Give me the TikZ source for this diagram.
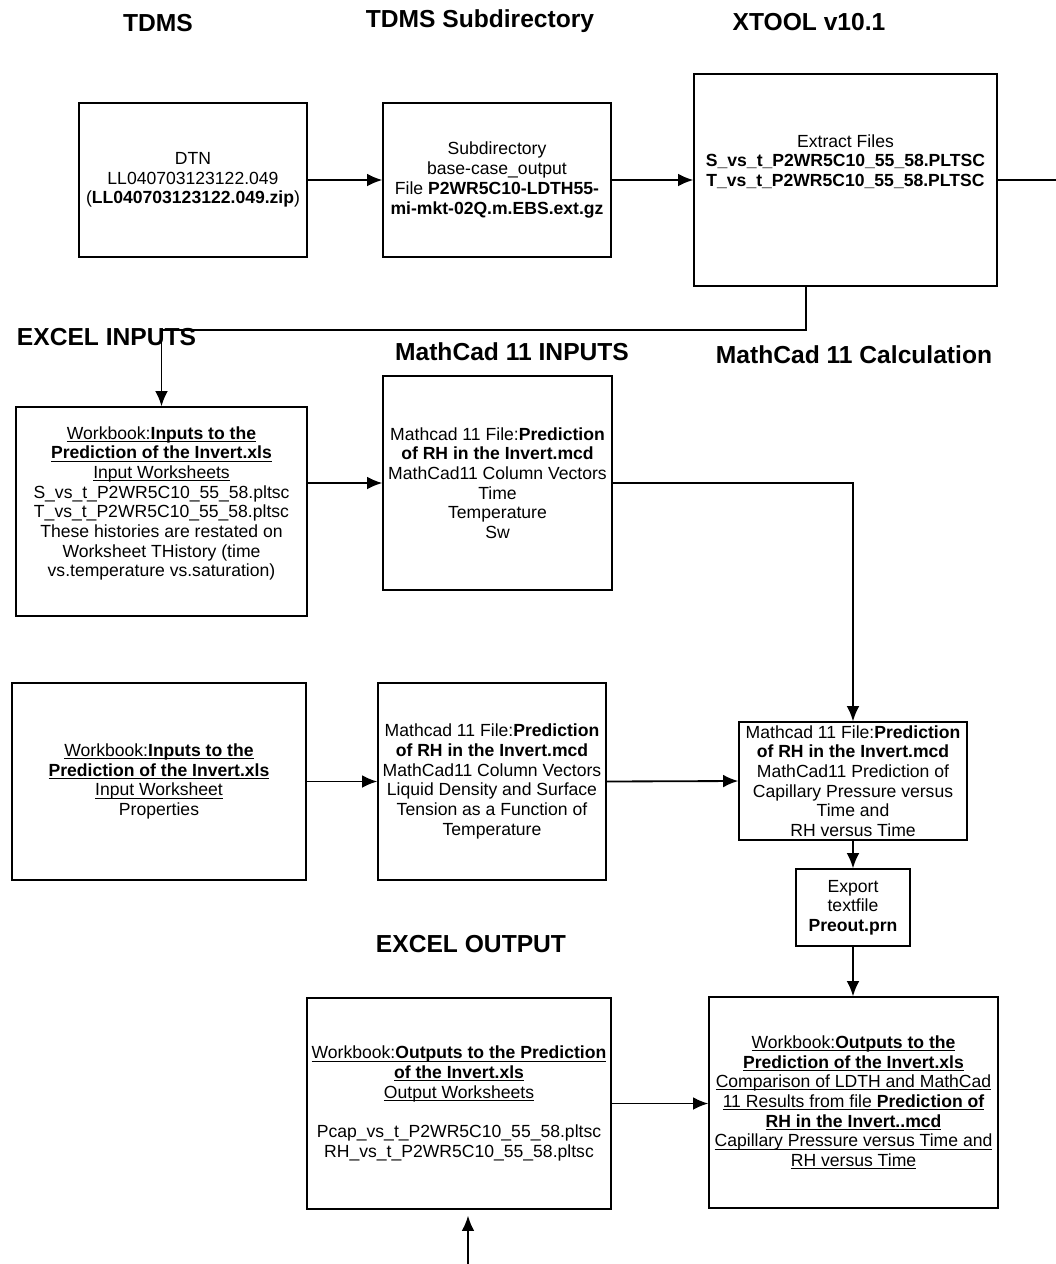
\documentclass[tikz,border=0pt]{standalone}
\usepackage{fontspec}
\setmainfont{Liberation Sans}
\usetikzlibrary{arrows.meta}
\newcommand{\undl}[1]{\underline{\raisebox{0pt}[\height][0pt]{#1}}}
\begin{document}
\begin{tikzpicture}[x=0.025cm,y=-0.025cm,
  box/.style={draw,line width=1pt,align=center,inner sep=1pt,font=\fontsize{12.5}{14}\selectfont},
  head/.style={anchor=base,font=\fontsize{17.5}{20}\selectfont\bfseries},
  >={Latex[length=3.8mm,width=3.2mm]}]
\path[fill=white,use as bounding box] (0,0) rectangle (1056,1264);

\node[head] (h1) at (158,31) {TDMS};
\node[head] (h2) at (480,27) {TDMS Subdirectory};
\node[head] (h3) at (809,30) {XTOOL v10.1};
\node[head,anchor=base west] (h4) at (12,345) {EXCEL INPUTS};
\node[head] (h5) at (512,360) {MathCad 11 INPUTS};
\node[head] (h6) at (854,363) {MathCad 11 Calculation};
\node[head] (h7) at (471,952) {EXCEL OUTPUT};

\node[box,minimum width=5.7cm,minimum height=3.85cm] (A) at (193,180) {DTN\\LL040703123122.049\\(\textbf{LL040703123122.049.zip})};
\node[box,minimum width=5.7cm,minimum height=3.85cm] (B) at (497,180) {Subdirectory\\base-case\_output\\File \textbf{P2WR5C10-LDTH55-}\\\textbf{mi-mkt-02Q.m.EBS.ext.gz}};
\node[box,minimum width=7.575cm,minimum height=5.3cm] (C) at (845.5,180) {Extract Files\\\textbf{S\_vs\_t\_P2WR5C10\_55\_58.PLTSC}\\\textbf{T\_vs\_t\_P2WR5C10\_55\_58.PLTSC}\\~\\~};

\node[box,minimum width=7.275cm,minimum height=5.225cm] (D) at (161.5,511.5) {\undl{Workbook:\textbf{Inputs to the}}\\\undl{\textbf{Prediction of the Invert.xls}}\\\undl{Input Worksheets}\\S\_vs\_t\_P2WR5C10\_55\_58.pltsc\\T\_vs\_t\_P2WR5C10\_55\_58.pltsc\\These histories are restated on\\Worksheet THistory (time\\vs.temperature vs.saturation)\\~};
\node[box,minimum width=5.725cm,minimum height=5.35cm] (E) at (497.5,483) {Mathcad 11 File:\textbf{Prediction}\\\textbf{of RH in the Invert.mcd}\\MathCad11 Column Vectors\\Time\\Temperature\\Sw};

\node[box,minimum width=7.35cm,minimum height=4.925cm] (F) at (159,781.5) {\undl{Workbook:\textbf{Inputs to the}}\\\undl{\textbf{Prediction of the Invert.xls}}\\\undl{Input Worksheet}\\Properties};
\node[box,minimum width=5.7cm,minimum height=4.925cm] (G) at (492,781.5) {Mathcad 11 File:\textbf{Prediction}\\\textbf{of RH in the Invert.mcd}\\MathCad11 Column Vectors\\Liquid Density and Surface\\Tension as a Function of\\Temperature};
\node[box,minimum width=5.7cm,minimum height=2.95cm] (H) at (853,781) {Mathcad 11 File:\textbf{Prediction}\\\textbf{of RH in the Invert.mcd}\\MathCad11 Prediction of\\Capillary Pressure versus\\Time and\\RH versus Time};
\node[box,minimum width=2.85cm,minimum height=1.925cm] (I) at (853,907.5) {Export\\textfile\\\textbf{Preout.prn}};

\node[box,minimum width=7.6cm,minimum height=5.275cm] (J) at (459,1103.5) {\undl{Workbook:\textbf{Outputs to the Prediction}}\\\undl{\textbf{of the Invert.xls}}\\\undl{Output Worksheets}\\~\\Pcap\_vs\_t\_P2WR5C10\_55\_58.pltsc\\RH\_vs\_t\_P2WR5C10\_55\_58.pltsc};
\node[box,minimum width=7.225cm,minimum height=5.275cm] (K) at (853.5,1102.5) {\undl{Workbook:\textbf{Outputs to the}}\\\undl{\textbf{Prediction of the Invert.xls}}\\\undl{Comparison of LDTH and MathCad}\\\undl{11 Results from file \textbf{Prediction of}}\\\undl{\textbf{RH in the Invert..mcd}}\\\undl{Capillary Pressure versus Time and}\\\undl{RH versus Time}};

\coordinate (R) at (1056,180);
\coordinate (Q) at (806,330);
\coordinate (S) at (468,1264);

\draw[->,line width=1.3pt] (A.east) -- (B.west);
\draw[->,line width=1.3pt] (B.east) -- (C.west);
\draw[line width=1.3pt] (C.east) -- (R);
\draw[->,line width=1.3pt] (C.south -| Q) -- (Q) -| (D.north);
\draw[->,line width=1.3pt] (D.east |- E.west) -- (E.west);
\draw[->,line width=1.3pt] (E.east) -| (H.north);
\draw[->,line width=1.3pt] (F.east) -- (G.west);
\draw[->,line width=1.3pt] (G.east) -- (H.west);
\draw[->,line width=1.3pt] (H.south) -- (I.north);
\draw[->,line width=1.3pt] (I.south) -- (I.south |- K.north);
\draw[->,line width=1.3pt] (J.east) -- (J.east -| K.west);
\draw[->,line width=1.3pt,shorten >=0.15cm] (S) -- (S |- J.south);
\end{tikzpicture}
\end{document}
